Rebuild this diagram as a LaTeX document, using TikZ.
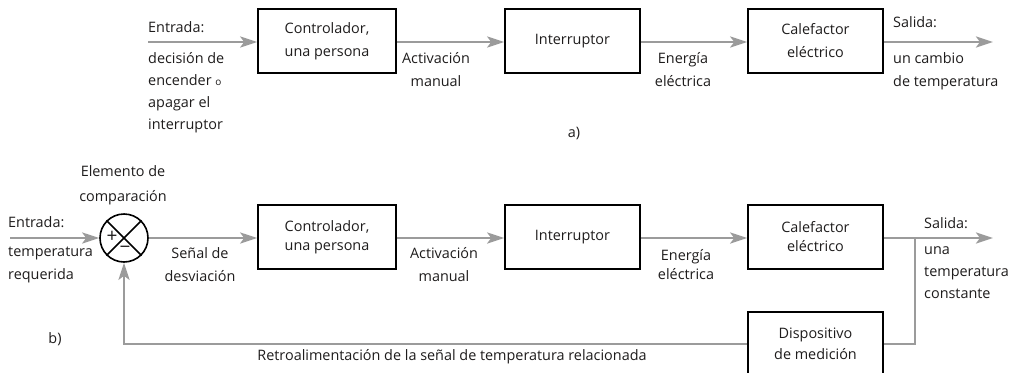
\documentclass[tikz,border=0pt]{standalone}
\usepackage{fontspec}
\setmainfont{Open Sans}
\usetikzlibrary{arrows.meta}
\definecolor{linegray}{RGB}{155,155,155}
\definecolor{ink}{RGB}{30,28,28}
\begin{document}
\begin{tikzpicture}[x=1pt,y=-1pt,
  every node/.style={text=ink},
  blk/.style={draw=black, line width=1.6pt, minimum width=135pt, minimum height=64pt, inner sep=0pt, align=center},
  fa/.style={font=\fontsize{14.4}{23}\selectfont},
  fb/.style={font=\fontsize{14.4}{19}\selectfont},
  lbl/.style={inner sep=0pt, align=center},
  lbll/.style={inner sep=0pt, align=left},
  conn/.style={draw=linegray, line width=2.6pt},
  arr/.style={conn, -{Stealth[length=17pt,width=11pt,inset=4pt]}},
  sumnode/.style={draw=black, line width=1.6pt, circle, minimum size=48pt, inner sep=0pt}
]
\useasboundingbox (0,0) rectangle (1032,372);

% ---------- a) ----------
\node[blk, fa, minimum width=138pt] (c1) at (327,41) {Controlador,\\una persona};
\node[blk, fa] (i1) at (572.5,41) {Interruptor};
\node[blk, fa] (h1) at (815.5,41) {Calefactor\\eléctrico};
\coordinate (in1) at (148,42);
\coordinate (out1) at (993,42);
\draw[arr] (in1) -- (in1 -| c1.west);
\draw[arr] (c1.east |- in1) -- (i1.west |- in1);
\draw[arr] (i1.east |- in1) -- (h1.west |- in1);
\draw[arr] (h1.east |- in1) -- (out1);

\node[lbll, fa, anchor=west] (ea) at (148,27) {Entrada:};
\node[lbll, fa, anchor=north west, font=\fontsize{14.4}{22}\selectfont] (ed) at (148,52) {decisión de\\encender {\fontsize{10}{12}\selectfont o}\\apagar el\\interruptor};
\node[lbl, fa, anchor=north] (aa) at (436,52) {Activación\\manual};
\node[lbl, fa, anchor=north] (ee) at (683,52) {Energía\\eléctrica};
\node[lbll, fa, anchor=west] (sa) at (893,22) {Salida:};
\node[lbll, fa, anchor=north west] (sd) at (893,52) {un cambio\\de temperatura};
\node[lbl, fa] (la) at (574,133) {a)};

% ---------- b) ----------
\node[sumnode] (sum) at (124,238) {};
\draw[black, line width=1.6pt] (sum.45) -- (sum.225);
\draw[black, line width=1.6pt] (sum.135) -- (sum.315);
\node[inner sep=0pt, font=\fontsize{19}{19}\selectfont] (plus) at (112,237) {+};
\node[inner sep=0pt, font=\fontsize{19}{19}\selectfont] (minus) at (125,250) {−};

\node[blk, fb, minimum width=138pt] (c2) at (327,237) {Controlador,\\una persona};
\node[blk, fb] (i2) at (572.5,237) {Interruptor};
\node[blk, fb] (h2) at (815.5,237) {Calefactor\\eléctrico};
\node[blk, text depth=0pt, font=\fontsize{14.4}{21}\selectfont] (d2) at (815.5,344) {Dispositivo\\de medición};
\coordinate (in2) at (10,238);
\coordinate (out2) at (993,238);
\coordinate (br) at (915,238);
\draw[arr] (in2) -- (sum.west);
\draw[arr] (sum.east) -- (c2.west |- sum);
\draw[arr] (c2.east |- sum) -- (i2.west |- sum);
\draw[arr] (i2.east |- sum) -- (h2.west |- sum);
\draw[arr] (h2.east |- sum) -- (out2);
\draw[conn] (br) |- (d2.east);
\draw[arr] (d2.west) -| (sum.south);

\node[lbl, fa, font=\fontsize{14.4}{25}\selectfont] (elem) at (123,185) {Elemento de\\comparación};
\node[lbll, fa, anchor=west] (eb) at (8,222) {Entrada:};
\node[lbll, fa, anchor=north west] (tr) at (8,247) {temperatura\\requerida};
\node[lbl, fa, anchor=north] (sd2) at (200,247) {Señal de\\desviación};
\node[lbl, fa, anchor=north] (am2) at (444,247) {Activación\\manual};
\node[lbl, fb, anchor=north] (ee2) at (686,249) {Energía\\eléctrica};
\node[lbll, fa, anchor=west] (sb) at (924,223) {Salida:};
\node[lbll, anchor=north west, font=\fontsize{14.4}{22}\selectfont] (tc) at (924,246) {una\\temperatura\\constante};
\node[lbl, fa] (lb) at (55,339) {b)};
\node[lbl, fa] (retro) at (452,357) {Retroalimentación de la señal de temperatura relacionada};
\end{tikzpicture}
\end{document}
